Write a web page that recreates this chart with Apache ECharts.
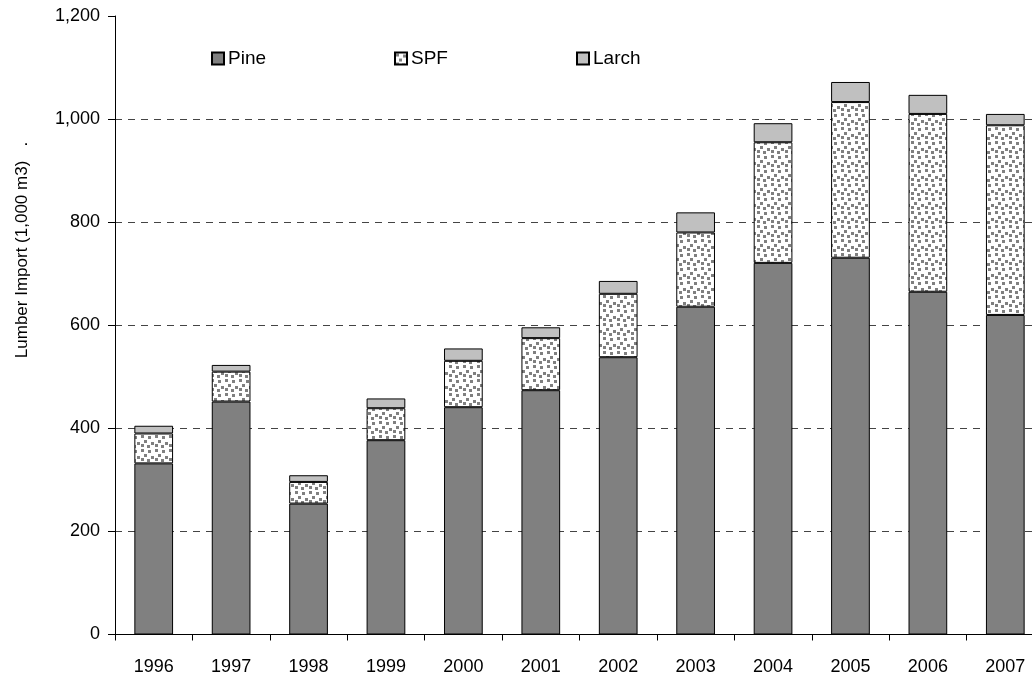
<!DOCTYPE html>
<html>
<head>
<meta charset="utf-8">
<script src="https://cdn.jsdelivr.net/npm/echarts@6/dist/echarts.min.js"></script>
<style>
  html, body { margin: 0; padding: 0; background: #fff; overflow: hidden; }
  /* the plot runs a little past the right edge of the window, as in the source */
  #chart { width: 1044px; height: 679px; }
</style>
</head>
<body>
<div id="chart"></div>
<script>
// Data (1,000 m3)
const years = ["1996", "1997", "1998", "1999", "2000", "2001", "2002", "2003", "2004", "2005", "2006", "2007"];
const pine  = [332, 452, 254, 377, 441, 474, 538, 636, 721, 731, 665, 620];
const spf   = [58, 58, 42, 62, 90, 101, 123, 144, 234, 302, 345, 368];
const larch = [15, 13, 13, 19, 24, 21, 25, 39, 37, 39, 37, 22];
const yTicks = [0, 200, 400, 600, 800, 1000, 1200];

// Dotted fill for SPF: gray squares on white, fixed layout inside one tile
function makeSpeckle() {
  const c = document.createElement("canvas");
  c.width = 14;
  c.height = 14;
  const ctx = c.getContext("2d");
  ctx.fillStyle = "#ffffff";
  ctx.fillRect(0, 0, 14, 14);
  ctx.fillStyle = "#808080";
  const spots = [[1, 1], [8, 2], [4, 6], [11, 8], [1, 10], [7, 11]];
  spots.forEach(function (s) { ctx.fillRect(s[0], s[1], 3, 3); });
  return { image: c, repeat: "repeat" };
}
const speckle = makeSpeckle();

const chart = echarts.init(document.getElementById("chart"));
const font = "Liberation Sans, Arial, sans-serif";
const fs = 18;

function legendFor(name, left) {
  return {
    data: [name],
    left: left,
    top: 49,
    padding: 0,
    icon: "rect",
    itemWidth: 12,
    itemHeight: 12,
    itemGap: 0,
    textStyle: { fontFamily: font, fontSize: 19, color: "#000", padding: [0, 0, 0, -1] }
  };
}

function barSeries(name, data, color) {
  return {
    name: name,
    type: "bar",
    stack: "total",
    data: data,
    barWidth: "50%",
    itemStyle: { color: color, borderColor: "#000", borderWidth: 1 }
  };
}

chart.setOption({
  animation: false,
  backgroundColor: "#fff",
  grid: { left: 115, top: 16, width: 929, height: 618.5 },
  legend: [legendFor("Pine", 211), legendFor("SPF", 394), legendFor("Larch", 576)],
  graphic: [{
    type: "text",
    x: 22,
    y: 250,
    rotation: Math.PI / 2,
    style: {
      text: "Lumber Import (1,000 m3)   .",
      fontFamily: font,
      fontSize: 17,
      fill: "#000",
      textAlign: "center",
      textVerticalAlign: "middle"
    }
  }],
  xAxis: {
    type: "category",
    data: years,
    axisLine: { lineStyle: { color: "#000", width: 1 } },
    axisTick: { show: true, length: 6, lineStyle: { color: "#000" } },
    axisLabel: { margin: 24, fontFamily: font, fontSize: fs, color: "#000" }
  },
  yAxis: {
    type: "value",
    min: yTicks[0],
    max: yTicks[yTicks.length - 1],
    interval: 200,
    axisLine: { show: true, lineStyle: { color: "#000", width: 1 } },
    axisTick: { show: true, length: 7, lineStyle: { color: "#000" } },
    axisLabel: {
      margin: 15,
      fontFamily: font,
      fontSize: fs,
      color: "#000",
      formatter: function (v) { return v.toLocaleString("en-US"); }
    },
    splitLine: {
      show: true,
      lineStyle: {
        color: ["transparent", "#444", "#444", "#444", "#444", "#444", "transparent"],
        type: [7, 6],
        width: 1
      }
    }
  },
  series: [
    barSeries("Pine", pine, "#808080"),
    barSeries("SPF", spf, speckle),
    barSeries("Larch", larch, "#c0c0c0")
  ]
});
</script>
</body>
</html>
